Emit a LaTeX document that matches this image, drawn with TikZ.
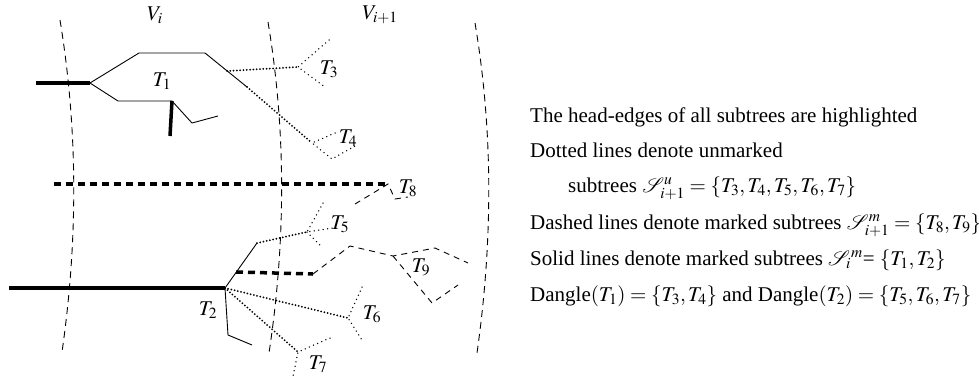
\documentclass[tikz,border=0pt]{standalone}
\usepackage{mathptmx}
\usepackage{mathrsfs}
\usepackage{fontspec}
\setmainfont{Liberation Serif}
\tikzset{
  solidline/.style={line width=0.9pt},
  headline/.style={line width=3.5pt},
  dothead/.style={line width=2pt,dash pattern=on 0pt off 3.3pt,line cap=round},
  dotbranch/.style={line width=1.5pt,dash pattern=on 0pt off 4.5pt,line cap=round},
  dashhead/.style={line width=3.5pt,dash pattern=on 7pt off 5pt},
  dashbranch/.style={line width=0.9pt,dash pattern=on 6pt off 5pt},
  border/.style={line width=0.9pt,dash pattern=on 7pt off 5pt},
  txt/.style={anchor=base west,inner sep=0pt},
  every node/.style={font=\fontsize{21}{25}\selectfont}
}
\begin{document}
\begin{tikzpicture}[x=1pt,y=-1pt]
\useasboundingbox (0,0) rectangle (979,378);
\draw[border] (60,20) .. controls (78,130) and (78,240) .. (62,352);
\draw[border] (268,22) .. controls (286,130) and (286,240) .. (269,353);
\draw[border] (475,23) .. controls (493,130) and (493,240) .. (477,353);
\node (vi) at (155,15) {$V_i$};
\node (vnext) at (380,15) {$V_{i+1}$};
% T1
\coordinate (a0) at (36,83);
\coordinate (a1) at (90,83);
\coordinate (a2) at (139,53);
\coordinate (a3) at (205,53);
\coordinate (a4) at (227,71);
\coordinate (a5) at (247,87);
\coordinate (b1) at (118,101);
\coordinate (b2) at (172,101);
\coordinate (b3) at (170,136);
\coordinate (b4) at (192,123);
\coordinate (b5) at (218,116);
\draw[headline] (a0) -- (a1);
\draw[solidline] (a1) -- (a2) -- (a3) -- (a5);
\draw[solidline] (a1) -- (b1) -- (b2) -- (b4) -- (b5);
\draw[headline] (b2) -- (b3);
\node (t1) at (162,81) {$T_1$};
% T3, T4
\coordinate (c0) at (298,67);
\coordinate (c1) at (329,40);
\coordinate (c2) at (325,87);
\draw[dothead] (a4) -- (c0);
\draw[dotbranch] (c1) -- (c0) -- (c2);
\node (t3) at (329,69) {$T_3$};
\coordinate (d0) at (312,143);
\coordinate (d1) at (335,133);
\coordinate (d2) at (332,159);
\coordinate (d3) at (355,146);
\draw[dothead] (a5) -- (d0);
\draw[dotbranch] (d1) -- (d0) -- (d2) -- (d3);
\node (t4) at (348,138) {$T_4$};
% T8
\coordinate (e0) at (54,184);
\coordinate (e1) at (388,184);
\coordinate (e2) at (355,204);
\coordinate (e3) at (395,199);
\coordinate (e4) at (408,197);
\draw[dashhead] (e0) -- (e1);
\draw[dashbranch] (e2) -- (e1) -- (e3) -- (e4);
\node (t8) at (408,188) {$T_8$};
% T2
\coordinate (f0) at (9,288);
\coordinate (f1) at (225,288);
\coordinate (f2) at (257,243);
\coordinate (f3) at (236,272);
\coordinate (k1) at (228,335);
\coordinate (k2) at (252,345);
\draw[headline] (f0) -- (f1);
\draw[solidline] (f1) -- (f2);
\draw[solidline] (f1) -- (k1) -- (k2);
\node (t2) at (208,310) {$T_2$};
% T5
\coordinate (g0) at (307,232);
\coordinate (g1) at (323,203);
\coordinate (g2) at (333,228);
\coordinate (g3) at (320,245);
\draw[dothead] (f2) -- (g0);
\draw[dotbranch] (g1) -- (g0) -- (g2);
\draw[dotbranch] (g0) -- (g3);
\node (t5) at (340,224) {$T_5$};
% T9
\coordinate (h0) at (313,274);
\coordinate (h1) at (350,246);
\coordinate (h2) at (393,256);
\coordinate (h3) at (435,248);
\coordinate (h4) at (468,263);
\coordinate (h5) at (432,303);
\coordinate (h6) at (458,285);
\draw[dashhead] (f3) -- (h0);
\draw[dashbranch] (h0) -- (h1) -- (h2) -- (h3) -- (h4);
\draw[dashbranch] (h2) -- (h5) -- (h6);
\node (t9) at (421,267) {$T_9$};
% T6, T7
\coordinate (i0) at (348,318);
\coordinate (i1) at (362,287);
\coordinate (i2) at (362,340);
\draw[dothead] (f1) -- (i0);
\draw[dotbranch] (i1) -- (i0) -- (i2);
\node (t6) at (372,314) {$T_6$};
\coordinate (j0) at (298,352);
\coordinate (j1) at (330,338);
\coordinate (j2) at (293,376);
\draw[dothead] (f1) -- (j0);
\draw[dotbranch] (j1) -- (j0) -- (j2);
\node (t7) at (318,364) {$T_7$};
% legend
\node[txt] (note1) at (530,122) {The head-edges of all subtrees are highlighted};
\node[txt] (note2) at (530,157) {Dotted lines denote unmarked};
\node[txt] (note3) at (568,192) {subtrees $\mathscr{S}^u_{i+1}=\{T_3,T_4,T_5,T_6,T_7\}$};
\node[txt] (note4) at (530,229) {Dashed lines denote marked subtrees $\mathscr{S}^m_{i+1}=\{T_8,T_9\}$};
\node[txt] (note5) at (530,265) {Solid lines denote marked subtrees $\mathscr{S}_i{}^m$= $\{T_1,T_2\}$};
\node[txt] (note6) at (530,301) {Dangle$(T_1)=\{T_3,T_4\}$ and Dangle$(T_2)=\{T_5,T_6,T_7\}$};
\end{tikzpicture}
\end{document}
